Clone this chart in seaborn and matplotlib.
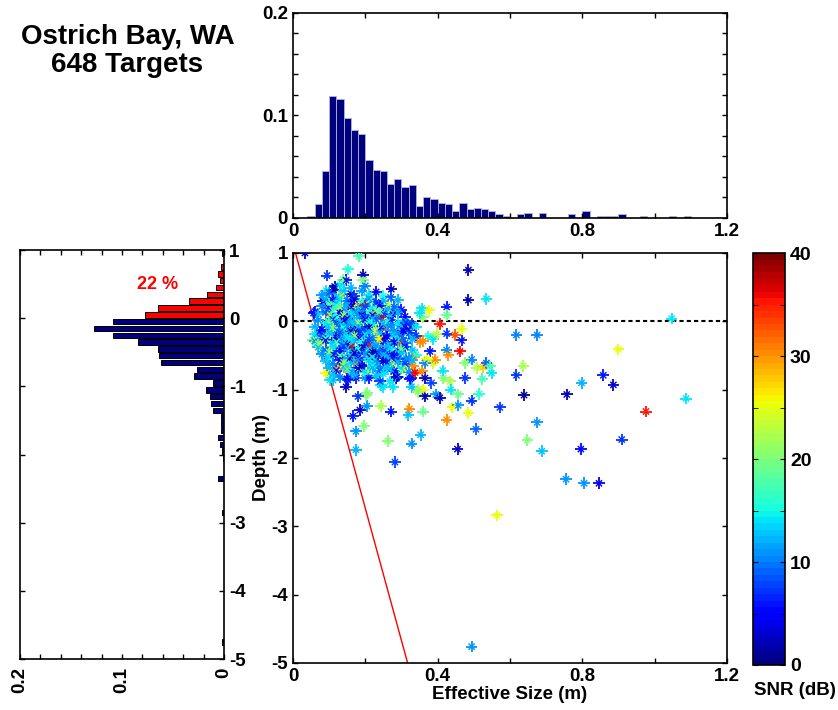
import numpy as np
import pandas as pd
import matplotlib
matplotlib.use('Agg')
import matplotlib.pyplot as plt
import seaborn as sns
from matplotlib.colors import Normalize
from matplotlib.cm import ScalarMappable
from matplotlib.ticker import MultipleLocator

plt.rcParams['font.family'] = ['Liberation Sans', 'DejaVu Sans']
plt.rcParams['font.weight'] = 'bold'
plt.rcParams['axes.labelweight'] = 'bold'
plt.rcParams['axes.linewidth'] = 1.2
plt.rcParams['xtick.direction'] = 'in'
plt.rcParams['ytick.direction'] = 'in'

#---------------------Datos------------------
n_targets = 648
snr_max = 40

# histograma superior: fraccion de blancos por clase de tamaño (clases de 0.02 m desde 0.04)
size_frac = [0.0023, 0.0133, 0.0462, 0.1193, 0.1161, 0.0972, 0.0862, 0.0816, 0.0566, 0.0472,
             0.0462, 0.0335, 0.0380, 0.0302, 0.0319, 0.0114, 0.0208, 0.0189, 0.0146, 0.0133,
             0.0072, 0.0146, 0.0085, 0.0098, 0.0088, 0.0072, 0.0039, 0.0023, 0.0, 0.0039,
             0.0052, 0.0, 0.0052, 0.0, 0.0, 0.0, 0.0039, 0.0, 0.0072, 0.0,
             0.0023, 0.0023, 0.0023, 0.0039, 0.0, 0.0, 0.0023, 0.0, 0.0, 0.0,
             0.0023, 0.0, 0.0023, 0.0, 0.0, 0.0, 0.0, 0.0]

# histograma izquierdo: fraccion de blancos por clase de profundidad (0.1 m)
depth_pos_centers = [0.95, 0.85, 0.75, 0.65, 0.55, 0.45, 0.35, 0.25, 0.15, 0.05]
depth_pos_frac = [0.0023, 0.0, 0.0030, 0.0056, 0.0040, 0.0075, 0.0170, 0.0340, 0.0650, 0.0770]
depth_neg_centers = [-0.05, -0.15, -0.25, -0.35, -0.45, -0.55, -0.65, -0.75, -0.85, -0.95,
                     -1.05, -1.15, -1.25, -1.35, -1.45, -1.55, -1.65, -1.75, -1.85, -1.95,
                     -2.05, -2.35, -2.85, -4.75]
depth_neg_frac = [0.1085, 0.1278, 0.1085, 0.0840, 0.0650, 0.0634, 0.0618, 0.0260, 0.0290, 0.0105,
                  0.0180, 0.0134, 0.0124, 0.0105, 0.0030, 0.0030, 0.0030, 0.0056, 0.0040, 0.0016,
                  0.0013, 0.0056, 0.0015, 0.0015]

# linea roja (limite de tamaño vs profundidad)
edge_size = [0.007, 0.317]
edge_depth = [1.0, -5.0]

# blancos: (tamaño efectivo m, profundidad m, SNR dB)
far_targets = [
    (0.033, 1.00, 3), (0.182, 0.95, 17), (0.485, 0.75, 2), (0.485, 0.31, 2), (0.535, 0.33, 14),
    (1.047, 0.04, 14), (0.618, -0.20, 10), (0.675, -0.20, 10), (0.900, -0.41, 25), (0.637, -0.65, 22),
    (0.618, -0.79, 7), (0.798, -0.90, 12), (0.858, -0.79, 6), (0.886, -0.93, 3), (0.639, -1.08, 1),
    (0.757, -1.07, 2), (0.976, -1.32, 35), (1.087, -1.13, 14), (0.909, -1.73, 7), (0.648, -1.74, 20),
    (0.675, -1.48, 11), (0.688, -1.90, 13), (0.796, -1.87, 5), (0.755, -2.31, 11), (0.805, -2.37, 11),
    (0.846, -2.37, 4), (0.564, -2.84, 25), (0.494, -4.76, 11),
]

deep_targets = [
    (0.572, -1.26, 7), (0.506, -1.58, 9), (0.455, -1.87, 3), (0.353, -1.66, 12), (0.328, -1.79, 11),
    (0.282, -2.06, 8), (0.262, -1.75, 20), (0.197, -1.53, 20), (0.174, -1.61, 11), (0.174, -1.88, 12),
    (0.425, -1.44, 30), (0.485, -1.34, 25), (0.441, -1.26, 25), (0.457, -1.23, 11), (0.360, -1.32, 19),
    (0.322, -1.28, 30), (0.319, -1.37, 13), (0.271, -1.32, 6), (0.243, -1.24, 22), (0.204, -1.24, 11),
    (0.185, -1.30, 3), (0.166, -1.39, 6), (0.205, -1.05, 20), (0.515, -1.06, 16), (0.494, -1.16, 7),
    (0.457, -1.07, 19), (0.436, -1.00, 14), (0.395, -1.07, 11), (0.365, -1.10, 2), (0.406, -1.12, 2),
    (0.360, -1.00, 25), (0.347, -1.00, 23), (0.203, -1.08, 20), (0.180, -1.10, 7), (0.346, -1.03, 20),
]

mid_targets = [
    (0.425, 0.21, 6), (0.425, 0.09, 19), (0.377, 0.16, 25), (0.360, 0.06, 20), (0.356, 0.19, 14),
    (0.406, -0.04, 35), (0.448, -0.20, 33), (0.466, -0.11, 25), (0.466, -0.28, 6), (0.462, -0.44, 36),
    (0.425, -0.18, 7), (0.425, -0.42, 10), (0.430, -0.49, 30), (0.388, -0.26, 14), (0.397, -0.19, 23),
    (0.374, -0.22, 15), (0.360, -0.29, 30), (0.379, -0.44, 6), (0.494, -0.56, 10), (0.476, -0.61, 20),
    (0.526, -0.67, 28), (0.535, -0.61, 9), (0.545, -0.66, 18), (0.549, -0.76, 14), (0.524, -0.84, 17),
    (0.508, -0.68, 23), (0.476, -0.83, 7), (0.434, -0.88, 22), (0.416, -0.83, 20), (0.414, -0.72, 14),
    (0.383, -0.90, 8), (0.365, -0.83, 3), (0.356, -0.73, 30), (0.388, -0.61, 24), (0.393, -0.56, 30),
    (0.365, -0.61, 10), (0.370, -0.55, 25), (0.337, -0.75, 36), (0.323, -0.84, 6), (0.287, -0.81, 3),
    (0.268, -0.88, 14), (0.248, -0.96, 14), (0.241, -0.88, 7), (0.328, -0.96, 13), (0.313, -0.02, 7),
    (0.350, 0.12, 14), (0.310, -0.08, 6), (0.318, -0.12, 5), (0.322, -0.17, 8), (0.305, -0.14, 4),
]

cluster_upper = [
    (0.152, 0.76, 15), (0.094, 0.67, 7), (0.194, 0.68, 3), (0.194, 0.60, 20), (0.138, 0.61, 20),
    (0.115, 0.51, 2), (0.147, 0.60, 6), (0.092, 0.45, 14), (0.083, 0.29, 3), (0.134, 0.38, 25),
    (0.161, 0.40, 3), (0.112, 0.46, 2), (0.272, 0.47, 3), (0.263, 0.24, 23), (0.194, 0.26, 36),
    (0.169, 0.22, 26), (0.212, 0.32, 19), (0.057, 0.12, 6), (0.101, 0.10, 26), (0.221, 0.13, 31),
    (0.244, 0.07, 36), (0.276, 0.10, 3), (0.213, 0.31, 17), (0.061, 0.14, 6),
    (0.10, 0.42, 9), (0.12, 0.36, 12), (0.14, 0.44, 13), (0.17, 0.37, 8), (0.19, 0.45, 11),
    (0.21, 0.39, 14), (0.23, 0.43, 5), (0.25, 0.37, 15), (0.08, 0.38, 11), (0.16, 0.49, 12),
    (0.13, 0.53, 14), (0.20, 0.52, 10), (0.27, 0.35, 9), (0.29, 0.31, 12),
    (0.09, 0.33, 12), (0.11, 0.31, 5), (0.13, 0.34, 14), (0.15, 0.30, 9), (0.17, 0.32, 3),
    (0.19, 0.29, 16), (0.21, 0.33, 11), (0.23, 0.28, 7), (0.12, 0.27, 13), (0.16, 0.26, 4),
    (0.25, 0.30, 12), (0.10, 0.25, 18),
    (0.08, 0.22, 10), (0.10, 0.19, 6), (0.12, 0.23, 15), (0.14, 0.18, 11), (0.16, 0.21, 2),
    (0.18, 0.17, 13), (0.20, 0.22, 8), (0.22, 0.19, 14), (0.24, 0.23, 5), (0.26, 0.18, 12),
    (0.28, 0.21, 9), (0.11, 0.16, 17), (0.15, 0.24, 12), (0.19, 0.15, 10), (0.23, 0.16, 19),
    (0.30, 0.17, 6), (0.13, 0.20, 21),
    (0.07, 0.10, 13), (0.09, 0.13, 9), (0.11, 0.08, 14), (0.13, 0.12, 5), (0.15, 0.07, 12),
    (0.17, 0.14, 10), (0.19, 0.09, 3), (0.21, 0.12, 15), (0.23, 0.06, 11), (0.25, 0.11, 7),
    (0.27, 0.08, 13), (0.29, 0.13, 12), (0.31, 0.07, 4), (0.12, 0.05, 16), (0.16, 0.10, 14),
    (0.20, 0.06, 9), (0.24, 0.14, 18), (0.14, 0.09, 22), (0.18, 0.05, 12), (0.22, 0.09, 6),
    (0.07, 0.02, 11), (0.11, 0.03, 7), (0.15, 0.04, 4), (0.19, 0.01, 10), (0.23, 0.03, 9),
    (0.27, 0.02, 6), (0.31, 0.01, 11), (0.14, 0.01, 3), (0.22, 0.04, 12), (0.20, 0.03, 5),
]

cluster_lower = [
    (0.069, -0.32, 20), (0.088, -0.27, 25), (0.161, -0.37, 36), (0.210, -0.35, 35), (0.258, -0.09, 36),
    (0.295, -0.29, 35), (0.323, -0.10, 19), (0.350, -0.30, 30), (0.092, -0.76, 26), (0.120, -0.69, 30),
    (0.138, -0.64, 26), (0.175, -0.59, 30), (0.147, -0.69, 31), (0.184, -0.69, 20), (0.157, -0.54, 3),
    (0.221, -0.47, 2), (0.235, -0.49, 3), (0.276, -0.62, 25), (0.286, -0.83, 3), (0.327, -0.83, 6),
    (0.244, -0.93, 14), (0.276, -0.96, 14), (0.152, -0.86, 7), (0.175, -0.83, 6), (0.198, -0.83, 11),
    (0.111, -0.86, 12), (0.207, -0.74, 20), (0.221, -0.66, 7), (0.240, -0.69, 11), (0.074, -0.15, 6),
    (0.101, -0.18, 14), (0.120, -0.27, 3), (0.138, -0.13, 14), (0.175, -0.10, 2), (0.194, -0.18, 7),
    (0.230, -0.15, 20), (0.276, -0.20, 14), (0.111, -0.49, 3), (0.129, -0.47, 6), (0.184, -0.44, 6),
    (0.212, -0.52, 2), (0.249, -0.42, 11), (0.267, -0.49, 6), (0.295, -0.44, 3), (0.313, -0.54, 11),
    (0.336, -0.52, 30), (0.304, -0.69, 25), (0.332, -0.66, 30), (0.070, -0.37, 25), (0.056, -0.27, 20),
    (0.102, -0.86, 14), (0.147, -0.96, 3),
    (0.09, -0.03, 14), (0.13, -0.02, 12), (0.17, -0.04, 13), (0.21, -0.01, 15), (0.25, -0.03, 12),
    (0.29, -0.02, 14), (0.33, -0.04, 8), (0.10, -0.01, 19), (0.18, -0.02, 21), (0.26, -0.01, 16),
    (0.12, -0.05, 9), (0.16, -0.01, 13),
    (0.06, -0.08, 12), (0.08, -0.12, 5), (0.10, -0.07, 13), (0.12, -0.13, 10), (0.14, -0.09, 15),
    (0.16, -0.14, 2), (0.18, -0.08, 12), (0.20, -0.12, 9), (0.22, -0.06, 14), (0.24, -0.11, 6),
    (0.26, -0.09, 12), (0.28, -0.14, 11), (0.30, -0.07, 13), (0.32, -0.12, 5), (0.34, -0.08, 14),
    (0.11, -0.10, 20), (0.15, -0.06, 11), (0.19, -0.15, 7), (0.23, -0.13, 24), (0.27, -0.06, 10),
    (0.13, -0.15, 13), (0.21, -0.09, 3),
    (0.06, -0.19, 14), (0.08, -0.22, 9), (0.10, -0.17, 12), (0.12, -0.24, 4), (0.14, -0.20, 13),
    (0.16, -0.18, 11), (0.18, -0.23, 6), (0.20, -0.19, 14), (0.22, -0.24, 10), (0.24, -0.17, 12),
    (0.26, -0.22, 5), (0.28, -0.19, 13), (0.30, -0.24, 9), (0.32, -0.18, 15), (0.34, -0.21, 7),
    (0.09, -0.25, 17), (0.13, -0.16, 8), (0.17, -0.21, 22), (0.21, -0.16, 12), (0.25, -0.25, 3),
    (0.29, -0.16, 11), (0.15, -0.24, 14),
    (0.06, -0.29, 11), (0.07, -0.33, 20), (0.09, -0.28, 6), (0.11, -0.32, 13), (0.13, -0.27, 10),
    (0.15, -0.34, 3), (0.17, -0.29, 12), (0.19, -0.31, 15), (0.21, -0.27, 8), (0.23, -0.33, 13),
    (0.25, -0.29, 5), (0.27, -0.34, 11), (0.29, -0.28, 14), (0.31, -0.32, 9), (0.33, -0.26, 12),
    (0.12, -0.30, 18), (0.16, -0.26, 14), (0.20, -0.34, 7), (0.24, -0.26, 26), (0.28, -0.31, 4),
    (0.14, -0.32, 12),
    (0.07, -0.38, 13), (0.09, -0.42, 9), (0.11, -0.37, 14), (0.13, -0.43, 5), (0.15, -0.39, 12),
    (0.17, -0.44, 10), (0.19, -0.38, 3), (0.21, -0.41, 13), (0.23, -0.36, 11), (0.25, -0.43, 7),
    (0.27, -0.39, 14), (0.29, -0.45, 12), (0.31, -0.37, 6), (0.33, -0.42, 13), (0.10, -0.45, 21),
    (0.14, -0.36, 8), (0.18, -0.41, 15), (0.22, -0.45, 2), (0.26, -0.36, 12), (0.30, -0.41, 19),
    (0.08, -0.48, 11), (0.10, -0.52, 14), (0.12, -0.47, 7), (0.14, -0.53, 12), (0.16, -0.49, 13),
    (0.18, -0.54, 5), (0.20, -0.48, 11), (0.22, -0.52, 14), (0.24, -0.46, 9), (0.26, -0.53, 12),
    (0.28, -0.50, 4), (0.30, -0.47, 13), (0.32, -0.54, 10), (0.34, -0.49, 15), (0.13, -0.50, 19),
    (0.17, -0.46, 3), (0.21, -0.55, 16), (0.25, -0.49, 12), (0.29, -0.55, 7),
    (0.09, -0.58, 13), (0.11, -0.62, 10), (0.13, -0.57, 4), (0.15, -0.63, 14), (0.17, -0.59, 12),
    (0.19, -0.64, 7), (0.21, -0.57, 13), (0.23, -0.61, 11), (0.25, -0.58, 3), (0.27, -0.63, 14),
    (0.29, -0.59, 12), (0.31, -0.62, 8), (0.33, -0.57, 12), (0.14, -0.60, 20), (0.18, -0.56, 10),
    (0.22, -0.65, 15), (0.26, -0.60, 6),
    (0.10, -0.68, 12), (0.12, -0.72, 6), (0.14, -0.67, 13), (0.16, -0.73, 11), (0.18, -0.69, 4),
    (0.20, -0.74, 14), (0.22, -0.68, 12), (0.24, -0.72, 9), (0.26, -0.67, 13), (0.28, -0.73, 5),
    (0.30, -0.69, 14), (0.32, -0.74, 11), (0.15, -0.70, 17), (0.19, -0.66, 3), (0.27, -0.70, 12),
    (0.11, -0.78, 13), (0.13, -0.82, 10), (0.17, -0.79, 12), (0.21, -0.83, 6), (0.25, -0.77, 14),
    (0.29, -0.81, 12), (0.15, -0.84, 4), (0.23, -0.80, 13),
]

targets = pd.DataFrame(cluster_upper + cluster_lower + mid_targets + deep_targets + far_targets,
                       columns=['size', 'depth', 'snr'])

#---------------------Figura------------------
jet = matplotlib.colormaps['jet'].resampled(64)
fig = plt.figure(figsize=(8.38, 7.10), dpi=100)

ax_top = fig.add_axes([0.3496, 0.693, 0.5179, 0.2887])
ax_sc = fig.add_axes([0.3496, 0.0662, 0.5179, 0.5775])
ax_left = fig.add_axes([0.0239, 0.0718, 0.2434, 0.576])
cax = fig.add_axes([0.8986, 0.0634, 0.0382, 0.580])

# histograma de tamaño
size_df = pd.DataFrame({'size': 0.05 + 0.02 * np.arange(len(size_frac)), 'frac': size_frac})
sns.histplot(data=size_df, x='size', weights='frac', binwidth=0.02, binrange=(0.04, 1.20),
             color='#00007f', edgecolor='#b4b4dc', linewidth=0.6, alpha=1, ax=ax_top)
ax_top.set_xlim(0, 1.2)
ax_top.set_ylim(0, 0.2)
ax_top.set_xticks([0, 0.4, 0.8, 1.2])
ax_top.set_xticklabels(['0', '0.4', '0.8', '1.2'])
ax_top.xaxis.set_minor_locator(MultipleLocator(0.2))
ax_top.set_yticks([0, 0.1, 0.2])
ax_top.set_yticklabels(['0', '0.1', '0.2'])
ax_top.yaxis.set_minor_locator(MultipleLocator(0.02))
ax_top.set_xlabel('')
ax_top.set_ylabel('')

# histograma de profundidad
pos_df = pd.DataFrame({'depth': depth_pos_centers, 'frac': depth_pos_frac})
neg_df = pd.DataFrame({'depth': depth_neg_centers, 'frac': depth_neg_frac})
sns.histplot(data=pos_df, y='depth', weights='frac', binwidth=0.1, binrange=(0.0, 1.0), shrink=0.8,
             color='#ff0000', edgecolor='black', linewidth=0.7, alpha=1, ax=ax_left)
sns.histplot(data=neg_df, y='depth', weights='frac', binwidth=0.1, binrange=(-5.0, 0.0), shrink=0.8,
             color='#00007f', edgecolor='black', linewidth=0.7, alpha=1, ax=ax_left)
ax_left.set_xlim(0.2, 0)
ax_left.set_ylim(-5, 1)
ax_left.set_xticks([0.2, 0.1, 0])
ax_left.set_xticklabels(['0.2', '0.1', '0'], rotation=90)
ax_left.xaxis.set_minor_locator(MultipleLocator(0.02))
ax_left.set_yticks(range(-5, 2))
ax_left.set_yticklabels([str(v) for v in range(-5, 2)])
ax_left.set_xlabel('')
ax_left.set_ylabel('')
ax_left.text(0.065, 0.49, '22 %', color='red', fontsize=13, fontweight='bold',
             ha='center', va='center')

# dispersion tamaño vs profundidad
ax_sc.plot(edge_size, edge_depth, color='red', lw=1)
ax_sc.axhline(0, color='black', ls=(0, (2, 1.5)), lw=1.5, zorder=1)
for mk, sz, lw in [('+', 70, 1.3), ('x', 20, 1.0)]:
    sns.scatterplot(data=targets, x='size', y='depth', hue='snr', palette=jet,
                    hue_norm=(0, snr_max), marker=mk, s=sz, linewidth=lw,
                    legend=False, ax=ax_sc, zorder=3)
ax_sc.set_xlim(0, 1.2)
ax_sc.set_ylim(-5, 1)
ax_sc.set_xticks([0, 0.4, 0.8, 1.2])
ax_sc.set_xticklabels(['0', '0.4', '0.8', '1.2'])
ax_sc.xaxis.set_minor_locator(MultipleLocator(0.2))
ax_sc.set_yticks(range(-5, 2))
ax_sc.set_yticklabels([str(v) for v in range(-5, 2)])
ax_sc.set_xlabel('Effective Size (m)', fontsize=13.5, labelpad=1)
ax_sc.set_ylabel('Depth (m)', fontsize=13.5, labelpad=1)

for ax in [ax_top, ax_sc, ax_left]:
    ax.tick_params(which='both', top=True, right=True, labelsize=13.5, length=3.5, width=1)
    for lab in ax.get_xticklabels() + ax.get_yticklabels():
        lab.set_fontweight('bold')
ax_left.tick_params(axis='y', labelleft=False, labelright=True)
ax_left.tick_params(axis='x', pad=6)

# barra de color
cb = fig.colorbar(ScalarMappable(norm=Normalize(0, snr_max), cmap=jet), cax=cax)
cb.set_ticks([0, 10, 20, 30, 40])
cb.ax.yaxis.set_minor_locator(MultipleLocator(5))
cb.ax.yaxis.set_ticks_position('both')
cb.ax.tick_params(which='both', direction='in', labelsize=14, length=3.5, labelleft=False,
                  labelright=True)
for lab in cb.ax.get_yticklabels():
    lab.set_fontweight('bold')
cb.outline.set_linewidth(1.2)
fig.text(0.949, 0.028, 'SNR (dB)', fontsize=13.5, fontweight='bold', ha='center', va='center')

fig.text(0.152, 0.938, 'Ostrich Bay, WA', fontsize=20, fontweight='bold', ha='center', va='baseline')
fig.text(0.152, 0.8986, '648 Targets', fontsize=20, fontweight='bold', ha='center', va='baseline')

fig.savefig('out.png', dpi=100)
